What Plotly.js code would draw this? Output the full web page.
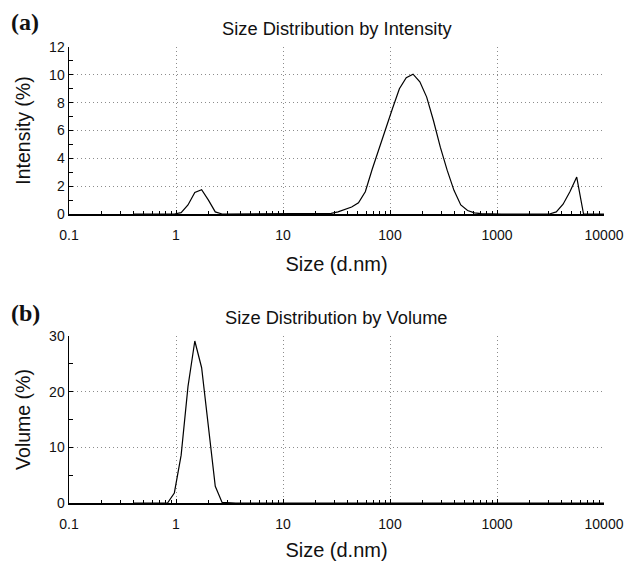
<!DOCTYPE html>
<html>
<head>
<meta charset="utf-8">
<script src="https://cdn.plot.ly/plotly-3.0.1.min.js"></script>
<style>html,body{margin:0;padding:0;background:#fff;}#chart{width:632px;height:561px;}</style>
</head>
<body>
<div id="chart"></div>
<script>
// Size bins (d.nm)
const sizes = [0.4, 0.4632, 0.5365, 0.6213, 0.7195, 0.8332, 0.9649, 1.117, 1.294, 1.499,
  1.736, 2.01, 2.328, 2.696, 3.122, 3.615, 4.187, 4.849, 5.615, 6.503,
  7.531, 8.721, 10.1, 11.7, 13.54, 15.69, 18.17, 21.04, 24.36, 28.21,
  32.67, 37.84, 43.82, 50.75, 58.77, 68.06, 78.82, 91.28, 105.7, 122.4,
  141.8, 164.2, 190.1, 220.2, 255.0, 295.3, 342.0, 396.1, 458.7, 531.2,
  615.1, 712.4, 825.0, 955.4, 1106, 1281, 1484, 1718, 1990, 2305,
  2669, 3091, 3580, 4145, 4801, 5560, 6439, 7456, 8635, 10000];

// Intensity (%)
const intensity = [0, 0, 0, 0, 0, 0, 0, 0.1, 0.65, 1.55,
  1.75, 1.0, 0.15, 0, 0, 0, 0, 0, 0, 0,
  0, 0, 0, 0, 0, 0, 0, 0, 0, 0.05,
  0.15, 0.3, 0.5, 0.8, 1.6, 3.2, 4.7, 6.2, 7.6, 9.0,
  9.8, 10.05, 9.5, 8.4, 6.7, 4.8, 3.15, 1.7, 0.65, 0.25,
  0.08, 0.02, 0, 0, 0, 0, 0, 0, 0, 0,
  0, 0, 0.15, 0.7, 1.6, 2.65, 0, 0, 0, 0];

// Volume (%)
const volume = [0, 0, 0, 0, 0, 0, 1.8, 8.6, 20.9, 29.1,
  24.3, 14.2, 3.0, 0.1, 0, 0, 0, 0, 0, 0,
  0, 0, 0, 0, 0, 0, 0, 0, 0, 0,
  0, 0, 0, 0, 0, 0, 0, 0, 0, 0,
  0, 0, 0, 0, 0, 0, 0, 0, 0, 0,
  0, 0, 0, 0, 0, 0, 0, 0, 0, 0,
  0, 0, 0, 0, 0, 0, 0, 0, 0, 0];

const xTickVals = [0.1, 1, 10, 100, 1000, 10000];
const xTickText = ['0.1', '1', '10', '100', '1000', '10000'];
const xMinorVals = [0.2,0.3,0.4,0.5,0.6,0.7,0.8,0.9, 2,3,4,5,6,7,8,9,
  20,30,40,50,60,70,80,90, 200,300,400,500,600,700,800,900,
  2000,3000,4000,5000,6000,7000,8000,9000];

const chartTitles = ['Size Distribution by Intensity', 'Size Distribution by Volume'];
const panelLabels = ['(a)', '(b)'];
const xTitle = 'Size (d.nm)';
const yTitles = ['Intensity (%)', 'Volume (%)'];

const FONT = 'Liberation Sans, Arial, sans-serif';
const gridCol = '#8c8c8c';
const gridDash = '1px,3px';

function xAxis(anchor) {
  return {
    type: 'log', range: [-1, 4], anchor: anchor,
    tickvals: xTickVals, ticktext: xTickText,
    ticks: 'inside', ticklen: 4, tickcolor: '#000', tickwidth: 1,
    showline: true, linecolor: '#000', linewidth: 1.5,
    showgrid: true, gridcolor: gridCol, griddash: gridDash, gridwidth: 1,
    zeroline: false,
    minor: { tickvals: xMinorVals, ticks: 'inside', ticklen: 3, tickcolor: '#000', showgrid: false },
    tickfont: { family: FONT, size: 14, color: '#111' },
    ticklabelstandoff: 8,
    title: { text: xTitle, font: { family: FONT, size: 20, color: '#111' }, standoff: 14 },
    automargin: false
  };
}
function yAxis(domain, range, dtick, minorDtick, title, anchor) {
  return {
    domain: domain, range: range, anchor: anchor, dtick: dtick, tick0: 0,
    ticks: 'inside', ticklen: 4, tickcolor: '#000',
    showline: true, linecolor: '#000', linewidth: 1.5,
    showgrid: true, gridcolor: gridCol, griddash: gridDash, gridwidth: 1,
    zeroline: false,
    minor: { dtick: minorDtick, ticks: 'inside', ticklen: 4, tickcolor: '#000', showgrid: false },
    tickfont: { family: FONT, size: 14, color: '#111' },
    title: { text: title, font: { family: FONT, size: 19.5, color: '#111' }, standoff: 13 },
    automargin: false
  };
}

const traces = [
  { x: sizes, y: intensity, xaxis: 'x', yaxis: 'y', type: 'scatter', mode: 'lines',
    line: { color: '#000', width: 1.2 }, hoverinfo: 'x+y' },
  { x: sizes, y: volume, xaxis: 'x2', yaxis: 'y2', type: 'scatter', mode: 'lines',
    line: { color: '#000', width: 1.2 }, hoverinfo: 'x+y' }
];

const H = 561;
const topDom = [1 - 214 / H, 1 - 47 / H];
const botDom = [1 - 503 / H, 1 - 336 / H];

const layout = {
  width: 632, height: 561,
  margin: { l: 69, r: 28, t: 0, b: 0 },
  paper_bgcolor: '#fff', plot_bgcolor: '#fff',
  showlegend: false,
  xaxis: xAxis('y'),
  yaxis: yAxis(topDom, [0, 12], 2, 1, yTitles[0], 'x'),
  xaxis2: xAxis('y2'),
  yaxis2: yAxis(botDom, [0, 30], 10, 5, yTitles[1], 'x2'),
  annotations: [
    { text: chartTitles[0], xref: 'paper', yref: 'paper', x: 0.5, y: 1 - 28 / H,
      xanchor: 'center', yanchor: 'middle', showarrow: false,
      font: { family: FONT, size: 18.3, color: '#111' } },
    { text: chartTitles[1], xref: 'paper', yref: 'paper', x: 0.5, y: 1 - 317 / H,
      xanchor: 'center', yanchor: 'middle', showarrow: false,
      font: { family: FONT, size: 18.3, color: '#111' } },
    { text: '<b>' + panelLabels[0] + '</b>', xref: 'paper', yref: 'paper', x: -60 / 535, y: 1 - 22 / H,
      xanchor: 'left', yanchor: 'middle', showarrow: false,
      font: { family: 'Liberation Serif, Times New Roman, serif', size: 24, color: '#111' } },
    { text: '<b>' + panelLabels[1] + '</b>', xref: 'paper', yref: 'paper', x: -60 / 535, y: 1 - 313 / H,
      xanchor: 'left', yanchor: 'middle', showarrow: false,
      font: { family: 'Liberation Serif, Times New Roman, serif', size: 24, color: '#111' } }
  ]
};

Plotly.newPlot('chart', traces, layout, { displayModeBar: false, staticPlot: true });
</script>
</body>
</html>
